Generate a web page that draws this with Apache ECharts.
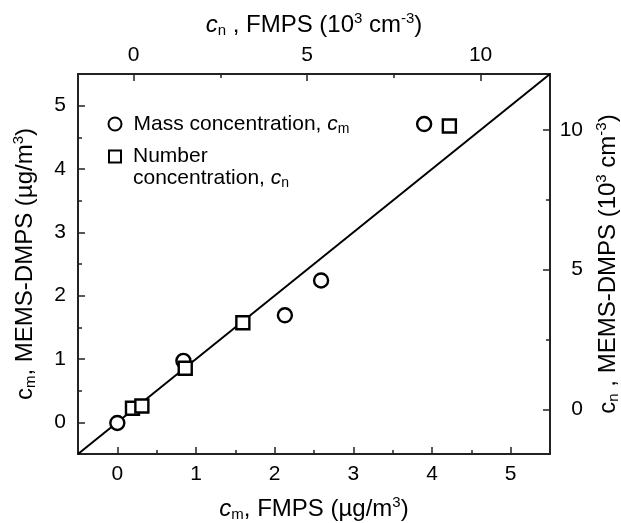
<!DOCTYPE html>
<html>
<head>
<meta charset="utf-8">
<script src="https://cdn.jsdelivr.net/npm/echarts@6/dist/echarts.min.js"></script>
<style>html,body{margin:0;padding:0;background:#fff}#c{width:621px;height:523px}</style>
</head>
<body>
<div id="c"></div>
<script>
// Mass concentration (bottom / left axes, µg/m3)
const massX = [0.00, 0.84, 2.13, 2.59, 3.90];
const massY = [-0.01, 0.97, 1.69, 2.24, 4.71];
// Number concentration (top / right axes, 10^3 cm^-3)
const numX = [-0.03, 0.24, 1.49, 3.15, 9.10];
const numY = [0.04, 0.12, 1.47, 3.10, 10.14];
// 1:1 line (mass axes)
const lineX = [-0.5, 5.5];
const lineY = [-0.5, 5.5];
// Tick labels
const massTicks = [0, 1, 2, 3, 4, 5];
const massMinor = [0.5, 1.5, 2.5, 3.5, 4.5];
const numTicks = [0, 5, 10];
const numMinor = [2.5, 7.5];

const FONT = 'Liberation Sans, Arial, sans-serif';
const AX = '#222';
const TF = 24;   // axis title font
const SF = 15;   // sub/superscript font
const LH = 28;
const richBase = {
  t: {fontSize: TF, fontFamily: FONT, color: '#000', lineHeight: LH},
  i: {fontSize: TF, fontFamily: FONT, color: '#000', fontStyle: 'italic', lineHeight: LH},
  u: {fontSize: TF, fontFamily: FONT, color: '#000', lineHeight: LH},
  s: {fontSize: SF, fontFamily: FONT, color: '#000', padding: [12, 0, 0, 0], lineHeight: LH},
  p: {fontSize: SF, fontFamily: FONT, color: '#000', padding: [0, 0, 13, 0], lineHeight: LH}
};
const tickFont = {fontSize: 21, fontFamily: FONT, color: '#000'};
const LF = 21;
const legendRich = {
  t: {fontSize: LF, fontFamily: FONT, color: '#000', lineHeight: 22},
  i: {fontSize: LF, fontFamily: FONT, color: '#000', fontStyle: 'italic', lineHeight: 22},
  s: {fontSize: 14, fontFamily: FONT, color: '#000', padding: [10, 0, 0, 0], lineHeight: 22}
};

function majorAxis(extra) {
  return Object.assign({
    type: 'value',
    splitLine: {show: false},
    axisLine: {show: true, onZero: false, lineStyle: {color: AX, width: 2}},
    nameLocation: 'middle',
    nameTextStyle: {rich: richBase}
  }, extra);
}
function minorAxis(extra) {
  return Object.assign({
    type: 'value',
    splitLine: {show: false},
    axisLine: {show: false, onZero: false},
    axisLabel: {show: false}
  }, extra);
}
function majTick(vals) {
  return {show: true, inside: true, length: 7, lineStyle: {color: AX, width: 1.5}, customValues: vals};
}
function minTick(vals) {
  return {show: true, inside: true, length: 4, lineStyle: {color: AX, width: 1.5}, customValues: vals};
}

const chart = echarts.init(document.getElementById('c'));
chart.setOption({
  animation: false,
  backgroundColor: '#fff',
  grid: {left: 78, right: 71, top: 74, bottom: 69, containLabel: false, outerBoundsMode: 'none'},
  xAxis: [
    majorAxis({position: 'bottom', min: -0.5, max: 5.5, axisTick: majTick(massTicks),
      axisLabel: Object.assign({margin: 10, customValues: massTicks}, tickFont),
      name: '{i|c}{s|m}{t|, FMPS (µg/m}{p|3}{t|)}', nameGap: 41}),
    minorAxis({position: 'bottom', min: -0.5, max: 5.5, axisTick: minTick(massMinor)}),
    majorAxis({position: 'top', min: -1.6, max: 12, axisTick: majTick(numTicks),
      axisLabel: Object.assign({margin: 8, customValues: numTicks}, tickFont),
      name: '{i|c}{s|n}{t| , FMPS (10}{p|3}{t| cm}{p|-3}{t|)}', nameGap: 35}),
    minorAxis({position: 'top', min: -1.6, max: 12, axisTick: minTick(numMinor)})
  ],
  yAxis: [
    majorAxis({position: 'left', min: -0.5, max: 5.5, axisTick: majTick(massTicks),
      axisLabel: Object.assign({margin: 12, customValues: massTicks}, tickFont),
      name: '{u|c}{s|m}{t|, MEMS-DMPS (µg/m}{p|3}{t|)}', nameGap: 39, nameRotate: 90}),
    minorAxis({position: 'left', min: -0.5, max: 5.5, axisTick: minTick(massMinor)}),
    majorAxis({position: 'right', min: -1.6, max: 12, axisTick: majTick(numTicks),
      axisLabel: Object.assign({margin: 33, align: 'right', customValues: numTicks}, tickFont),
      name: '{u|c}{s|n}{t| , MEMS-DMPS (10}{p|3}{t| cm}{p|-3}{t|)}', nameGap: 40, nameRotate: 90}),
    minorAxis({position: 'right', min: -1.6, max: 12, axisTick: minTick(numMinor)})
  ],
  legend: [
    {
      left: 107.5, top: 112, padding: 0, orient: 'vertical',
      itemWidth: 13, itemHeight: 13,
      data: [{name: 'Mass concentration', icon: 'circle'}],
      formatter: function () { return '{t|Mass concentration, }{i|c}{s|m}'; },
      textStyle: {padding: [0, 0, 0, 7], rich: legendRich}
    },
    {
      left: 108, top: 124, padding: 0, orient: 'vertical',
      itemWidth: 12, itemHeight: 12,
      data: [{name: 'Number concentration', icon: 'rect'}],
      formatter: function () { return '{t| }\n{t|Number}\n{t|concentration, }{i|c}{s|n}'; },
      textStyle: {padding: [0, 0, 0, 7], rich: legendRich}
    }
  ],
  series: [
    {
      type: 'line', name: '1:1', xAxisIndex: 0, yAxisIndex: 0,
      data: lineX.map((x, k) => [x, lineY[k]]),
      showSymbol: false, symbol: 'none',
      lineStyle: {color: '#000', width: 2}, z: 2, silent: true
    },
    {
      type: 'scatter', name: 'Mass concentration', xAxisIndex: 0, yAxisIndex: 0,
      data: massX.map((x, k) => [x, massY[k]]),
      symbol: 'circle', symbolSize: 14,
      itemStyle: {color: '#fff', borderColor: '#000', borderWidth: 2.4, opacity: 1}, z: 3
    },
    {
      type: 'scatter', name: 'Number concentration', xAxisIndex: 2, yAxisIndex: 2,
      data: numX.map((x, k) => [x, numY[k]]),
      symbol: 'rect', symbolSize: 13,
      itemStyle: {color: '#fff', borderColor: '#000', borderWidth: 2.4, opacity: 1}, z: 4
    }
  ]
});
</script>
</body>
</html>
